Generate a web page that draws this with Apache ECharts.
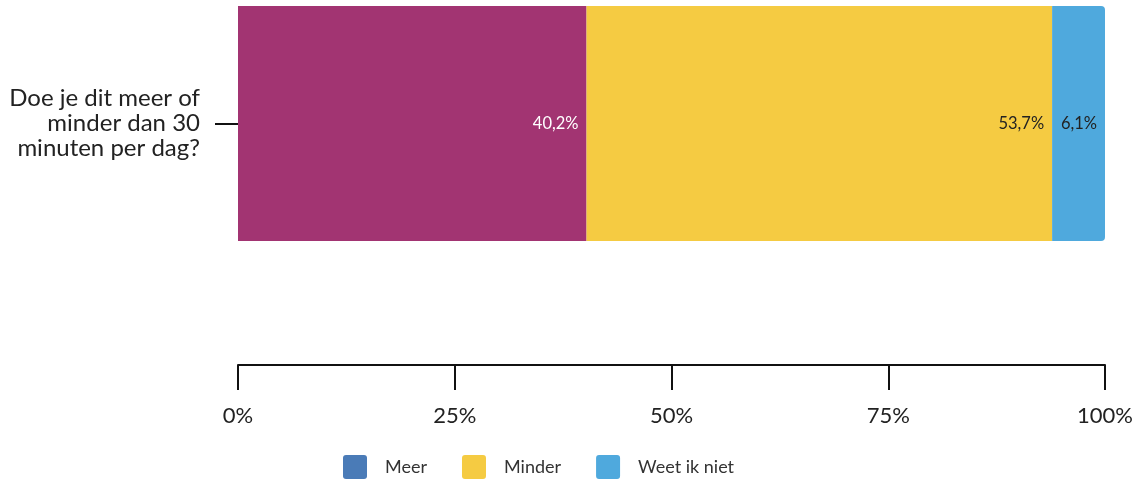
<!DOCTYPE html>
<html>
<head>
<meta charset="utf-8">
<script src="https://cdn.jsdelivr.net/npm/echarts@6/dist/echarts.min.js"></script>
<style>html,body{margin:0;padding:0;background:#fff}#c{width:1145px;height:482px}</style>
</head>
<body>
<div id="c"></div>
<script>
const categories = ['Doe je dit meer of\nminder dan 30\nminuten per dag?'];
const seriesNames = ['Meer', 'Minder', 'Weet ik niet'];
const meer = [40.2];
const minder = [53.7];
const weetIkNiet = [6.1];
const xTicks = ['0%', '25%', '50%', '75%', '100%'];

const barColors = ['#a23472', '#f5cb42', '#4fa9dd'];
const legendColors = ['#4a7bb7', '#f5cb42', '#4fa9dd'];
const labelColors = ['#ffffff', '#222222', '#222222'];
const values = [meer, minder, weetIkNiet];

const chart = echarts.init(document.getElementById('c'));
const font = 'Lato, "Open Sans", sans-serif';
const iconPath = 'path://M3,0H21Q24,0 24,3V21Q24,24 21,24H3Q0,24 0,21V3Q0,0 3,0Z';
chart.setOption({
  animation: false,
  textStyle: { fontFamily: font },
  grid: { left: 238, right: 40, top: 6, height: 235, containLabel: false },
  xAxis: {
    type: 'value', min: 0, max: 100, interval: 25,
    position: 'bottom', offset: 124,
    axisLine: { show: true, lineStyle: { color: '#111', width: 2 } },
    axisTick: { show: true, length: 25, lineStyle: { color: '#111', width: 2 } },
    splitLine: { show: false },
    axisLabel: {
      margin: 40, fontSize: 22, color: '#222', fontFamily: font,
      formatter: v => xTicks[Math.round(v / 25)]
    }
  },
  yAxis: {
    type: 'category', data: categories,
    axisLine: { show: false },
    axisTick: { show: true, alignWithLabel: true, length: 23, lineStyle: { color: '#111', width: 2 } },
    axisLabel: { margin: 38, fontSize: 24, lineHeight: 25, color: '#222', align: 'right', fontFamily: font, padding: [0, 0, 3, 0] }
  },
  legend: {
    top: 450, left: 338,
    itemWidth: 24, itemHeight: 24, itemGap: 35,
    textStyle: { fontSize: 18, color: '#333', fontFamily: font, padding: [0, 0, 0, 13] },
    data: seriesNames.map((n, i) => ({ name: n, icon: iconPath, itemStyle: { color: legendColors[i] } }))
  },
  series: seriesNames.map((n, i) => ({
    name: n, type: 'bar', stack: 'total',
    barCategoryGap: 0, barWidth: '100%',
    data: values[i],
    itemStyle: { color: barColors[i], borderRadius: i === 2 ? [0, 4, 4, 0] : 0 },
    label: {
      show: true, position: 'insideRight', distance: 8,
      color: labelColors[i], fontSize: 16.5, fontFamily: font,
      formatter: p => p.value.toFixed(1).replace('.', ',') + '%'
    }
  }))
});
</script>
</body>
</html>
